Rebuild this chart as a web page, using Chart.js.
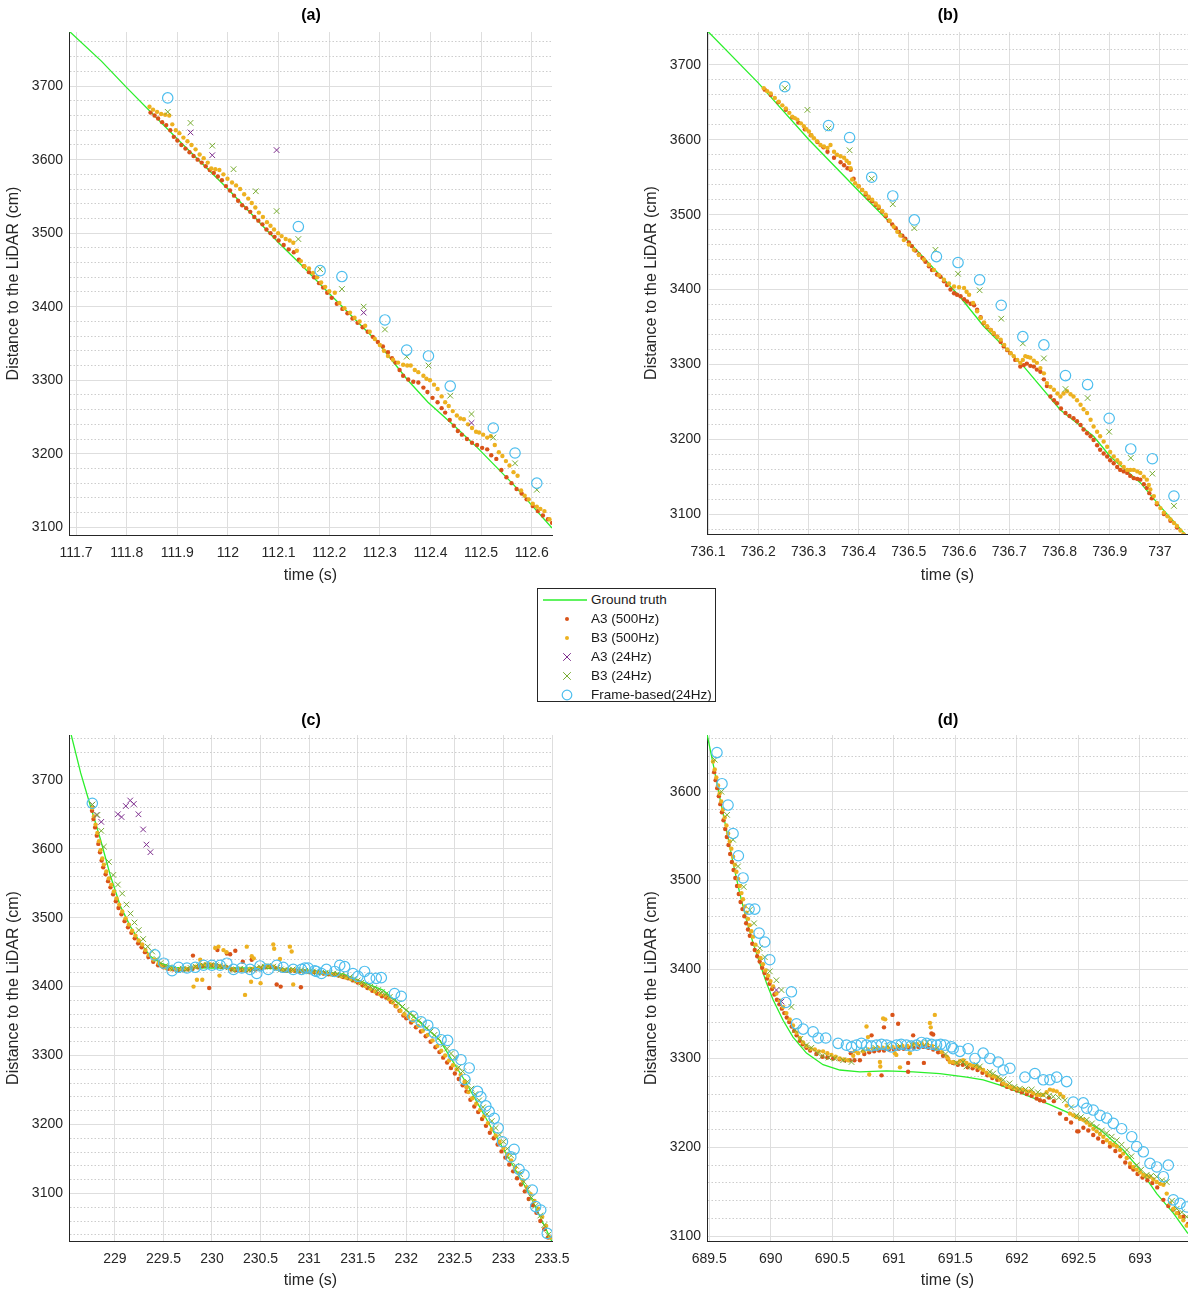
<!DOCTYPE html>
<html>
<head>
<meta charset="utf-8">
<script src="https://cdn.jsdelivr.net/npm/chart.js@4.4.0/dist/chart.umd.min.js"></script>
<style>
  html, body { margin: 0; padding: 0; background: #fff; overflow: hidden; }
  body { position: relative; width: 1188px; height: 1291px; font-family: 'Liberation Sans', Arial, Helvetica, sans-serif; }
  .panel { position: absolute; }
  .ttl { position: absolute; font-weight: bold; font-size: 16px; color: #000; transform: translate(-50%, -50%); }
  #legend { position: absolute; left: 537px; top: 588px; width: 177px; height: 112px; border: 1px solid #262626; background: #fff; }
  #legend svg { position: absolute; left: 0; top: 0; }
  #legend span { position: absolute; left: 53px; font-size: 13.5px; color: #1a1a1a; line-height: 16px; white-space: nowrap; }
</style>
</head>
<body>
<div class="panel" style="left:0;top:0;width:582px;height:592px"><canvas id="ca"></canvas></div>
<div class="panel" style="left:638px;top:0;width:580px;height:592px"><canvas id="cb"></canvas></div>
<div class="panel" style="left:0;top:703px;width:582px;height:588px"><canvas id="cc"></canvas></div>
<div class="panel" style="left:638px;top:703px;width:580px;height:588px"><canvas id="cd"></canvas></div>
<div class="ttl" style="left:311px;top:15px">(a)</div>
<div class="ttl" style="left:948px;top:15px">(b)</div>
<div class="ttl" style="left:311px;top:720px">(c)</div>
<div class="ttl" style="left:948px;top:720px">(d)</div>
<div id="legend">
  <svg width="177" height="112">
    <line x1="5" y1="11" x2="49" y2="11" stroke="#2bef2b" stroke-width="1.3"/>
    <circle cx="29" cy="30" r="2" fill="#D95319"/>
    <circle cx="29" cy="49" r="2" fill="#EDB120"/>
    <path d="M25.2 64.2 L32.8 71.8 M32.8 64.2 L25.2 71.8" stroke="#7E2F8E" stroke-width="1"/>
    <path d="M25.2 83.2 L32.8 90.8 M32.8 83.2 L25.2 90.8" stroke="#77AC30" stroke-width="1"/>
    <circle cx="29" cy="106" r="4.8" fill="none" stroke="#4DBEEE" stroke-width="1.2"/>
  </svg>
  <span style="top:3px">Ground truth</span>
  <span style="top:22px">A3 (500Hz)</span>
  <span style="top:41px">B3 (500Hz)</span>
  <span style="top:60px">A3 (24Hz)</span>
  <span style="top:79px">B3 (24Hz)</span>
  <span style="top:98px">Frame-based(24Hz)</span>
</div>
<script>
// ---------- panel (a) ----------
var aGT = [[111.686,3775],[111.75,3734],[111.8,3698],[111.9,3628],[112.0,3560],[112.1,3487],[112.143,3458],[112.2,3418],[112.294,3353],[112.354,3301],[112.395,3270],[112.45,3236],[112.493,3208],[112.564,3158],[112.64,3099]];
var aA3hi = [[111.847,3664],[111.855,3660],[111.862,3656],[111.870,3651],[111.878,3647],[111.886,3640],[111.893,3631],[111.900,3626],[111.908,3620],[111.916,3615],[111.924,3610],[111.932,3605],[111.940,3600],[111.948,3596],[111.956,3591],[111.964,3586],[111.972,3582],[111.980,3577],[111.988,3572],[111.996,3564],[112.004,3558],[112.012,3551],[112.020,3544],[112.028,3538],[112.036,3534],[112.044,3529],[112.052,3522],[112.060,3517],[112.068,3512],[112.076,3505],[112.084,3500],[112.092,3495],[112.100,3490],[112.110,3484],[112.120,3478],[112.130,3474],[112.140,3464],[112.150,3455],[112.160,3447],[112.170,3440],[112.180,3432],[112.188,3426],[112.196,3419],[112.205,3412],[112.215,3404],[112.226,3397],[112.236,3391],[112.246,3384],[112.256,3378],[112.266,3372],[112.276,3366],[112.286,3359],[112.296,3352],[112.306,3346],[112.316,3338],[112.324,3330],[112.331,3324],[112.339,3314],[112.346,3306],[112.356,3301],[112.366,3298],[112.376,3297],[112.386,3290],[112.394,3284],[112.404,3276],[112.414,3270],[112.422,3262],[112.429,3256],[112.438,3246],[112.446,3238],[112.454,3231],[112.462,3226],[112.472,3220],[112.482,3215],[112.492,3212],[112.502,3208],[112.512,3206],[112.520,3198],[112.530,3193],[112.540,3178],[112.550,3168],[112.560,3160],[112.570,3152],[112.580,3146],[112.590,3138],[112.602,3129],[112.612,3122],[112.622,3116],[112.632,3111],[112.640,3106]];
var aB3hi = [[111.845,3672],[111.852,3668],[111.860,3665],[111.868,3662],[111.876,3661],[111.884,3660],[111.890,3648],[111.897,3640],[111.904,3636],[111.912,3630],[111.920,3625],[111.928,3620],[111.936,3614],[111.944,3607],[111.952,3602],[111.960,3596],[111.967,3588],[111.975,3587],[111.983,3586],[111.991,3580],[111.999,3574],[112.008,3569],[112.016,3565],[112.024,3560],[112.032,3553],[112.040,3547],[112.047,3541],[112.054,3535],[112.061,3528],[112.069,3522],[112.077,3515],[112.084,3510],[112.091,3505],[112.099,3500],[112.106,3496],[112.114,3492],[112.122,3490],[112.129,3487],[112.136,3476],[112.144,3462],[112.151,3455],[112.160,3452],[112.168,3446],[112.176,3440],[112.184,3433],[112.192,3427],[112.200,3421],[112.211,3419],[112.220,3405],[112.230,3398],[112.241,3392],[112.250,3385],[112.260,3380],[112.271,3374],[112.280,3366],[112.290,3356],[112.300,3348],[112.308,3340],[112.316,3333],[112.326,3328],[112.336,3324],[112.346,3321],[112.354,3320],[112.361,3320],[112.369,3314],[112.376,3311],[112.386,3306],[112.392,3302],[112.399,3300],[112.407,3294],[112.414,3288],[112.422,3278],[112.429,3270],[112.436,3265],[112.444,3258],[112.452,3252],[112.459,3248],[112.466,3247],[112.474,3240],[112.482,3235],[112.490,3230],[112.496,3229],[112.504,3226],[112.512,3222],[112.519,3224],[112.527,3212],[112.535,3202],[112.542,3197],[112.549,3190],[112.556,3184],[112.564,3175],[112.572,3170],[112.579,3150],[112.586,3143],[112.594,3138],[112.602,3132],[112.610,3128],[112.617,3125],[112.625,3122],[112.635,3111]];
var aA3lo = [[111.926,3637],[111.969,3606],[112.096,3613],[112.268,3392],[112.481,3242]];
var aB3lo = [[111.881,3665],[111.926,3650],[111.969,3619],[112.011,3587],[112.055,3557],[112.096,3530],[112.139,3492],[112.182,3451],[112.225,3424],[112.268,3400],[112.31,3369],[112.353,3332],[112.396,3320],[112.439,3279],[112.481,3254],[112.524,3222],[112.567,3187],[112.61,3151]];
var aFrame = [[111.881,3684],[112.139,3509],[112.182,3449],[112.225,3441],[112.31,3382],[112.353,3341],[112.396,3333],[112.439,3292],[112.524,3235],[112.567,3201],[112.61,3160]];

// ---------- panel (b) ----------
var bGT = [[736.098,3746],[736.2,3676],[736.301,3600],[736.404,3529],[736.497,3466],[736.601,3391],[736.649,3351],[736.729,3297],[736.802,3239],[736.868,3204],[736.901,3177],[736.961,3142],[737.001,3110],[737.06,3066]];
var bA3hi = [[736.213,3667],[736.225,3660],[736.24,3650],[736.255,3640],[736.268,3630],[736.28,3623],[736.293,3614],[736.305,3606],[736.318,3597],[736.33,3590],[736.338,3584],[736.351,3576],[736.364,3570],[736.371,3566],[736.378,3562],[736.384,3560],[736.39,3548],[736.4,3538],[736.407,3533],[736.414,3527],[736.42,3522],[736.427,3518],[736.434,3513],[736.44,3509],[736.447,3504],[736.454,3498],[736.46,3492],[736.467,3487],[736.474,3482],[736.48,3477],[736.487,3472],[736.493,3468],[736.5,3463],[736.506,3458],[736.513,3452],[736.52,3447],[736.527,3442],[736.533,3437],[736.54,3431],[736.546,3426],[736.556,3420],[736.563,3417],[736.57,3411],[736.576,3406],[736.583,3400],[736.59,3395],[736.596,3393],[736.603,3391],[736.61,3387],[736.616,3384],[736.623,3381],[736.63,3379],[736.636,3373],[736.643,3363],[736.649,3355],[736.656,3350],[736.663,3346],[736.669,3341],[736.676,3337],[736.683,3330],[736.689,3324],[736.696,3319],[736.702,3315],[736.712,3306],[736.722,3297],[736.729,3299],[736.735,3301],[736.742,3298],[736.749,3297],[736.755,3293],[736.762,3290],[736.769,3280],[736.775,3271],[736.782,3257],[736.789,3252],[736.795,3248],[736.803,3241],[736.812,3235],[736.82,3231],[736.828,3228],[736.835,3224],[736.842,3219],[736.848,3213],[736.855,3208],[736.862,3204],[736.868,3199],[736.875,3192],[736.881,3186],[736.888,3181],[736.895,3177],[736.901,3172],[736.908,3168],[736.915,3163],[736.921,3159],[736.928,3157],[736.935,3155],[736.941,3151],[736.948,3148],[736.955,3147],[736.961,3146],[736.968,3140],[736.974,3135],[736.979,3128],[736.984,3121],[736.994,3113],[737.008,3100],[737.021,3091],[737.034,3082],[737.047,3072]];
var bB3hi = [[736.211,3669],[736.218,3665],[736.225,3662],[736.233,3656],[736.241,3651],[736.248,3646],[736.255,3642],[736.262,3636],[736.268,3631],[736.273,3629],[736.278,3627],[736.285,3622],[736.291,3618],[736.296,3614],[736.301,3611],[736.306,3606],[736.311,3602],[736.317,3598],[736.324,3593],[736.331,3591],[736.338,3589],[736.344,3593],[736.351,3584],[736.357,3580],[736.364,3578],[736.371,3576],[736.376,3572],[736.381,3569],[736.384,3562],[736.387,3547],[736.393,3542],[736.4,3538],[736.407,3533],[736.414,3529],[736.42,3524],[736.427,3520],[736.434,3515],[736.44,3511],[736.447,3505],[736.454,3500],[736.462,3492],[736.47,3484],[736.477,3477],[736.483,3472],[736.49,3466],[736.5,3460],[736.51,3453],[736.52,3446],[736.53,3440],[736.54,3433],[736.55,3426],[736.56,3419],[736.57,3413],[736.58,3408],[736.59,3404],[736.6,3403],[736.61,3402],[736.615,3397],[736.62,3393],[736.628,3382],[736.636,3371],[736.643,3362],[736.65,3356],[736.656,3351],[736.663,3346],[736.669,3342],[736.676,3337],[736.683,3333],[736.69,3326],[736.696,3320],[736.703,3315],[736.709,3311],[736.716,3306],[736.722,3302],[736.727,3306],[736.732,3311],[736.737,3310],[736.742,3309],[736.749,3305],[736.755,3302],[736.762,3295],[736.769,3288],[736.775,3275],[736.782,3270],[736.789,3266],[736.796,3261],[736.802,3257],[736.808,3261],[736.815,3264],[736.822,3260],[736.828,3257],[736.835,3252],[736.842,3246],[736.848,3240],[736.855,3235],[736.862,3226],[736.868,3217],[736.875,3210],[736.881,3204],[736.888,3197],[736.895,3190],[736.901,3183],[736.908,3177],[736.915,3172],[736.921,3168],[736.928,3163],[736.935,3159],[736.941,3159],[736.948,3159],[736.955,3157],[736.961,3155],[736.968,3150],[736.974,3146],[736.978,3139],[736.981,3133],[736.988,3124],[736.994,3115],[737.001,3108],[737.008,3102],[737.015,3097],[737.021,3093],[737.028,3088],[737.034,3084],[737.041,3078],[737.047,3073],[737.054,3066]];
var bA3lo = [];
var bB3lo = [[736.253,3669],[736.298,3640],[736.34,3615],[736.382,3586],[736.426,3548],[736.468,3514],[736.511,3482],[736.553,3453],[736.598,3421],[736.641,3399],[736.684,3361],[736.727,3328],[736.769,3308],[736.812,3267],[736.856,3255],[736.899,3210],[736.942,3175],[736.985,3154],[737.028,3111]];
var bFrame = [[736.253,3671],[736.34,3619],[736.382,3603],[736.426,3550],[736.468,3525],[736.511,3493],[736.555,3444],[736.598,3436],[736.641,3413],[736.684,3379],[736.727,3337],[736.769,3326],[736.812,3285],[736.856,3273],[736.899,3228],[736.942,3187],[736.985,3174],[737.028,3124]];

// ---------- panel (c) ----------
var cGT = [[228.528,3778],[228.648,3710],[228.751,3661],[228.853,3613],[228.956,3560],[229.059,3516],[229.161,3487],[229.264,3463],[229.367,3444],[229.469,3434],[229.605,3428],[230.0,3427],[230.5,3427],[231.0,3424],[231.35,3418],[231.76,3395],[232.03,3362],[232.34,3323],[232.61,3262],[232.92,3184],[233.26,3101],[233.5,3030]];
var cA3hi = [[228.765,3655],[228.78,3643],[228.797,3631],[228.814,3619],[228.83,3607],[228.847,3595],[228.864,3583],[228.88,3573],[228.905,3563],[228.93,3553],[228.955,3544],[228.982,3534],[229.01,3524],[229.038,3514],[229.068,3505],[229.1,3495],[229.135,3486],[229.17,3478],[229.205,3470],[229.24,3463],[229.275,3457],[229.31,3450],[229.345,3443],[229.395,3436],[229.445,3431],
  [229.5,3428],[229.55,3426],[229.6,3425],[229.65,3424],[229.7,3424],[229.75,3425],[229.8,3426],[229.85,3428],[229.9,3430],[229.95,3431],[230.0,3431],[230.05,3430],[230.1,3429],[230.15,3428],[230.2,3425],[230.25,3424],[230.3,3424],[230.35,3423],[230.4,3424],[230.45,3425],[230.5,3426],[230.55,3428],[230.6,3429],[230.65,3427],[230.7,3425],[230.75,3423],[230.8,3423],[230.85,3423],[230.9,3422],[230.95,3422],[231.0,3421],[231.05,3421],[231.1,3420],[231.15,3419],[231.2,3418],[231.25,3417],[231.3,3416],[231.35,3414],[231.4,3412],[231.45,3409],[231.5,3406],[231.55,3402],[231.6,3398],[231.65,3394],[231.7,3390],[231.75,3386],[231.794,3384],[231.84,3378],[231.89,3372],[231.93,3365],[231.97,3358],[232.0,3354],[232.05,3348],[232.1,3341],[232.15,3335],[232.2,3328],[232.25,3320],[232.3,3312],[232.341,3305],[232.38,3297],[232.42,3290],[232.46,3282],[232.5,3274],[232.54,3266],[232.58,3257],[232.62,3248],[232.66,3236],[232.7,3226],[232.74,3218],[232.78,3208],[232.82,3198],[232.86,3188],[232.9,3180],[232.94,3171],[232.98,3161],[233.02,3152],[233.06,3142],[233.1,3132],[233.14,3122],[233.18,3113],[233.22,3103],[233.26,3092],[233.3,3083],[233.34,3072],[233.38,3060],[233.42,3048],[233.46,3036],
  [229.804,3445],[229.971,3398],[230.056,3453],[230.153,3448],[230.187,3447],[230.317,3436],[230.409,3439],[230.666,3403],[230.707,3400],[230.915,3399],[230.24,3452]];
var cB3hi = [[228.768,3659],[228.785,3647],[228.802,3635],[228.82,3623],[228.836,3611],[228.853,3598],[228.871,3586],[228.887,3577],[228.912,3567],[228.938,3557],[228.963,3548],[228.99,3538],[229.017,3528],[229.045,3519],[229.076,3509],[229.11,3499],[229.144,3490],[229.178,3481],[229.212,3474],[229.246,3467],[229.281,3461],[229.315,3453],[229.349,3446],[229.4,3439],[229.451,3434],
  [229.48,3430],[229.53,3427],[229.58,3426],[229.63,3425],[229.68,3426],[229.73,3426],[229.78,3427],[229.83,3429],[229.88,3431],[229.93,3432],[229.98,3432],[230.03,3431],[230.08,3430],[230.13,3429],[230.18,3427],[230.23,3425],[230.28,3425],[230.33,3424],[230.38,3425],[230.43,3426],[230.48,3427],[230.53,3429],[230.58,3430],[230.63,3429],[230.68,3426],[230.73,3424],[230.78,3424],[230.83,3424],[230.88,3423],[230.93,3423],[230.98,3422],[231.03,3422],[231.08,3421],[231.13,3420],[231.18,3419],[231.23,3418],[231.28,3417],[231.33,3415],[231.38,3413],[231.43,3411],[231.48,3408],[231.53,3405],[231.58,3401],[231.63,3397],[231.68,3393],[231.73,3389],[231.78,3387],[231.82,3382],[231.86,3377],[231.9,3371],[231.94,3365],[231.98,3360],[232.02,3356],[232.07,3350],[232.12,3343],[232.17,3336],[232.22,3330],[232.27,3322],[232.32,3314],[232.36,3307],[232.4,3300],[232.44,3293],[232.48,3286],[232.52,3280],[232.56,3272],[232.6,3262],[232.62,3254],[232.64,3247],[232.68,3238],[232.72,3230],[232.76,3221],[232.8,3212],[232.84,3202],[232.88,3193],[232.92,3184],[232.96,3175],[233.0,3166],[233.04,3157],[233.08,3148],[233.12,3138],[233.16,3129],[233.2,3119],[233.24,3109],[233.28,3099],[233.32,3089],[233.36,3078],[233.4,3066],[233.44,3053],[233.48,3036],
  [229.81,3400],[229.845,3410],[229.879,3439],[230.033,3456],[230.067,3458],[230.118,3453],[230.15,3450],[230.077,3416],[230.34,3388],[230.358,3458],[230.409,3444],[230.43,3441],[230.402,3407],[230.631,3461],[230.64,3455],[230.802,3458],[230.82,3451],[230.836,3403],[229.9,3410],[230.5,3405],[230.7,3440]];
var cA3lo = [[228.768,3664],[228.812,3649],[228.86,3639],[229.031,3650],[229.069,3646],[229.113,3662],[229.158,3670],[229.195,3665],[229.243,3650],[229.291,3628],[229.325,3606],[229.366,3595]];
var cB3lo = [[228.768,3664],[228.82,3649],[228.86,3626],[228.887,3603],[228.938,3581],[228.984,3562],[229.031,3548],[229.076,3535],[229.12,3519],[229.161,3506],[229.202,3493],[229.246,3482],[229.291,3469],[229.338,3458],[229.384,3451],[229.43,3440],[229.47,3434],[229.52,3430],[229.56,3428],[229.6,3426],[229.65,3424],[229.7,3426],[229.74,3425],[229.78,3427],[229.83,3429],[229.87,3430],[229.91,3431],[229.95,3431],[229.99,3431],[230.04,3431],[230.08,3430],[230.12,3429],[230.17,3428],[230.21,3424],[230.25,3425],[230.29,3426],[230.33,3425],[230.38,3424],[230.42,3425],[230.46,3427],[230.5,3428],[230.54,3429],[230.58,3430],[230.63,3429],[230.67,3427],[230.71,3425],[230.75,3424],[230.79,3424],[230.83,3425],[230.88,3424],[230.92,3424],[230.96,3423],[231.0,3422],[231.04,3422],[231.08,3421],[231.13,3421],[231.17,3420],[231.21,3419],[231.25,3419],[231.29,3418],[231.33,3417],[231.38,3416],[231.42,3414],[231.46,3411],[231.5,3409],[231.54,3406],[231.58,3403],[231.63,3400],[231.67,3398],[231.71,3395],[231.75,3392],[231.79,3389],[231.83,3385],[231.88,3380],[231.92,3376],[231.96,3371],[232.0,3366],[232.04,3361],[232.08,3357],[232.13,3351],[232.17,3346],[232.21,3340],[232.25,3335],[232.29,3330],[232.33,3325],[232.38,3316],[232.42,3310],[232.46,3303],[232.5,3297],[232.54,3283],[232.58,3277],[232.63,3262],[232.67,3252],[232.71,3244],[232.75,3235],[232.79,3225],[232.83,3215],[232.88,3205],[232.92,3195],[232.96,3185],[233.0,3175],[233.04,3165],[233.08,3155],[233.13,3140],[233.17,3128],[233.21,3117],[233.25,3106],[233.29,3094],[233.33,3082],[233.38,3068],[233.42,3054],[233.46,3040]];
var cFrame = [[228.768,3666],[229.412,3446],[229.503,3434],[229.589,3423],[229.656,3428],[229.742,3427],[229.828,3428],[229.913,3431],[229.999,3431],[230.084,3431],[230.153,3434],[230.221,3425],[230.307,3427],[230.392,3425],[230.461,3419],[230.494,3430],[230.579,3425],[230.666,3431],[230.733,3428],[230.836,3425],[230.922,3425],[230.956,3427],[230.99,3427],[231.058,3423],[231.076,3422],[231.127,3419],[231.178,3425],[231.264,3422],[231.315,3431],[231.366,3429],[231.451,3419],[231.503,3415],[231.571,3422],[231.623,3412],[231.691,3412],[231.743,3413],[231.879,3390],[231.948,3386],[232.067,3357],[232.153,3349],[232.221,3344],[232.289,3333],[232.358,3323],[232.426,3322],[232.484,3301],[232.563,3294],[232.604,3265],[232.648,3282],[232.733,3248],[232.768,3240],[232.819,3227],[232.853,3219],[232.905,3209],[232.946,3195],[232.99,3175],[233.076,3153],[233.11,3164],[233.161,3135],[233.212,3127],[233.297,3105],[233.332,3081],[233.384,3076],[233.451,3042]];

// ---------- panel (d) ----------
var dGT = [[689.482,3665],[689.531,3632],[689.585,3594],[689.64,3557],[689.694,3520],[689.748,3486],[689.802,3456],[689.856,3430],[689.911,3407],[689.965,3385],[690.019,3366],[690.1,3343],[690.181,3324],[690.29,3306],[690.425,3293],[690.561,3287],[690.724,3285],[690.941,3286],[691.157,3285],[691.374,3283],[691.591,3279],[691.726,3276],[691.862,3270],[691.998,3263],[692.268,3248],[692.499,3234],[692.675,3220],[692.864,3197],[693.0,3175],[693.136,3148],[693.271,3126],[693.39,3103]];
var dA3hi = [[689.54,3622],[689.552,3613],[689.565,3604],[689.578,3595],[689.59,3586],[689.603,3577],[689.616,3568],[689.63,3558],[689.643,3549],[689.657,3540],[689.67,3530],[689.684,3521],[689.698,3512],[689.712,3503],[689.726,3494],[689.74,3485],[689.755,3476],[689.77,3468],[689.785,3460],[689.8,3452],[689.815,3445],[689.83,3438],[689.85,3429],[689.87,3422],[689.89,3415],[689.91,3409],[689.93,3402],[689.95,3396],[689.97,3390],[689.99,3384],[690.01,3378],[690.03,3372],[690.05,3366],[690.07,3361],[690.09,3356],[690.11,3351],[690.13,3346],[690.15,3341],[690.17,3336],[690.19,3331],[690.21,3326],[690.236,3320],[690.26,3316],[690.29,3312],[690.32,3309],[690.371,3305],[690.42,3302],[690.46,3301],[690.507,3300],[690.56,3299],[690.6,3298],[690.642,3298],[690.68,3298],[690.724,3298],
  [690.76,3305],[690.8,3307],[690.84,3308],[690.88,3309],[690.92,3309],[690.96,3310],[691.0,3310],[691.04,3311],[691.08,3311],[691.12,3312],[691.16,3312],[691.2,3313],[691.24,3313],[691.28,3312],[691.32,3310],[691.36,3307],[691.4,3303],[691.44,3299],
  [691.48,3295],[691.52,3293],[691.56,3293],[691.6,3290],[691.64,3289],[691.68,3287],[691.72,3284],[691.76,3281],[691.8,3278],[691.84,3276],[691.88,3271],[691.92,3268],[691.96,3266],[692.0,3264],[692.04,3262],[692.08,3260],[692.12,3258],[692.16,3255],[692.187,3253],[692.22,3252],[692.26,3256],[692.3,3252],[692.35,3238],[692.4,3232],[692.44,3228],[692.5,3218],[692.54,3222],[692.58,3219],[692.62,3214],[692.66,3210],[692.7,3206],[692.756,3201],[692.8,3196],[692.84,3190],[692.88,3183],[692.92,3178],[692.946,3175],[692.98,3170],[693.02,3166],[693.06,3163],[693.1,3160],[693.14,3155],[693.19,3141],[693.23,3134],[693.27,3130],[693.31,3126],[693.352,3122],[693.39,3114],
  [690.819,3326],[690.9,3281],[690.989,3349],[691.035,3339],[691.157,3326],[691.116,3295],[691.116,3285],[691.244,3295],[691.306,3328],[691.32,3327],[690.65,3306],[690.92,3335],[692.49,3218]];
var dB3hi = [[689.531,3634],[689.545,3625],[689.558,3616],[689.572,3607],[689.585,3598],[689.598,3589],[689.612,3580],[689.626,3571],[689.64,3562],[689.654,3553],[689.667,3544],[689.68,3536],[689.694,3527],[689.708,3518],[689.721,3510],[689.735,3502],[689.748,3494],[689.762,3486],[689.775,3479],[689.789,3471],[689.802,3464],[689.816,3457],[689.829,3450],[689.843,3443],[689.856,3437],[689.876,3428],[689.897,3420],[689.917,3413],[689.937,3406],[689.957,3399],[689.978,3393],[689.998,3387],[690.019,3381],[690.046,3373],[690.073,3365],[690.1,3358],[690.127,3351],[690.154,3344],[690.181,3337],[690.21,3329],[690.236,3323],[690.263,3318],[690.29,3314],[690.324,3311],[690.358,3310],[690.39,3308],[690.425,3308],[690.46,3306],[690.493,3304],[690.527,3302],[690.561,3300],[690.594,3299],[690.628,3298],
  [690.67,3303],[690.71,3306],[690.75,3308],[690.79,3310],[690.83,3311],[690.87,3312],[690.91,3312],[690.95,3312],[690.99,3313],[691.03,3313],[691.07,3314],[691.11,3314],[691.15,3315],[691.19,3316],[691.23,3316],[691.27,3316],[691.31,3314],[691.35,3311],[691.39,3307],[691.43,3302],
  [691.455,3296],[691.482,3296],[691.509,3295],[691.536,3297],[691.563,3298],[691.59,3295],[691.618,3293],[691.645,3292],[691.672,3291],[691.7,3289],[691.726,3287],[691.753,3284],[691.78,3281],[691.808,3280],[691.835,3279],[691.862,3276],[691.889,3272],[691.916,3270],[691.943,3268],[691.97,3267],[691.998,3266],[692.025,3265],[692.052,3265],[692.079,3263],[692.106,3263],[692.133,3261],[692.16,3259],[692.187,3259],[692.214,3259],[692.241,3262],[692.268,3265],[692.295,3264],[692.323,3263],[692.35,3260],[692.377,3257],[692.404,3247],[692.431,3238],[692.458,3236],[692.485,3234],[692.512,3232],[692.539,3231],[692.566,3228],[692.594,3225],[692.621,3221],[692.648,3218],[692.675,3215],[692.702,3212],[692.729,3208],[692.756,3205],[692.783,3203],[692.811,3201],[692.838,3197],[692.864,3193],[692.892,3188],[692.919,3182],[692.946,3178],[692.973,3175],[693.0,3172],[693.027,3169],[693.054,3168],[693.081,3167],[693.108,3164],[693.136,3161],[693.163,3159],[693.19,3158],[693.217,3148],[693.244,3137],[693.271,3131],[693.298,3126],[693.325,3122],[693.352,3118],[693.379,3112],
  [690.778,3336],[690.79,3324],[690.913,3345],[690.93,3344],[690.887,3296],[690.89,3291],[690.683,3308],[691.008,3306],[691.02,3304],[691.13,3306],[691.157,3317],[691.293,3340],[691.333,3349],[691.3,3335],[691.442,3300],[690.8,3282],[691.05,3290]];
var dA3lo = [[690.046,3377],[690.087,3364]];
var dB3lo = [[689.545,3636],[689.599,3600],[689.645,3574],[689.694,3546],[689.734,3516],[689.78,3493],[689.829,3467],[689.864,3452],[689.911,3424],[689.951,3414],[689.992,3398],[690.046,3388],[690.087,3377],[690.168,3358],[690.195,3332],[690.24,3322],[690.29,3315],[690.33,3312],[690.38,3306],[690.42,3303],[690.47,3301],[690.52,3300],[690.588,3298],[690.656,3296],[690.75,3310],[690.85,3312],[690.95,3314],[691.05,3314],[691.15,3315],[691.22,3317],[691.27,3318],[691.35,3312],[691.42,3305],[691.51,3295],[691.563,3296],[691.59,3291],[691.67,3293],[691.699,3291],[691.78,3285],[691.807,3283],[691.848,3279],[691.889,3276],[691.94,3272],[691.98,3268],[692.024,3266],[692.07,3265],[692.12,3265],[692.17,3262],[692.214,3259],[692.26,3258],[692.295,3257],[692.34,3256],[692.39,3253],[692.44,3245],[692.485,3236],[692.52,3234],[692.567,3231],[692.61,3227],[692.648,3223],[692.69,3219],[692.729,3216],[692.77,3212],[692.811,3208],[692.85,3203],[692.892,3197],[692.93,3190],[692.973,3180],[693.01,3175],[693.054,3169],[693.09,3168],[693.136,3167],[693.18,3163],[693.217,3161],[693.26,3140],[693.298,3131],[693.34,3127],[693.38,3122]];
var dFrame = [[689.563,3644],[689.604,3609],[689.653,3585],[689.694,3553],[689.737,3528],[689.775,3503],[689.824,3468],[689.87,3468],[689.905,3441],[689.951,3431],[689.992,3411],[690.122,3363],[690.168,3375],[690.209,3339],[690.263,3333],[690.344,3330],[690.385,3323],[690.447,3323],[690.547,3317],[690.615,3315],[690.656,3313],[690.697,3315],[690.737,3317],[690.778,3315],[690.818,3314],[690.859,3315],[690.9,3316],[690.941,3315],[690.98,3313],[691.022,3315],[691.06,3316],[691.103,3315],[691.14,3314],[691.185,3315],[691.225,3318],[691.266,3317],[691.306,3316],[691.347,3315],[691.38,3316],[691.415,3315],[691.469,3313],[691.482,3311],[691.537,3308],[691.604,3311],[691.659,3300],[691.726,3306],[691.78,3300],[691.848,3296],[691.889,3287],[691.943,3289],[692.065,3279],[692.146,3283],[692.214,3276],[692.268,3276],[692.323,3279],[692.404,3274],[692.458,3251],[692.539,3250],[692.567,3244],[692.62,3242],[692.675,3236],[692.729,3233],[692.783,3227],[692.851,3221],[692.933,3212],[692.973,3201],[693.027,3195],[693.081,3182],[693.136,3178],[693.19,3167],[693.23,3180],[693.271,3141],[693.325,3137],[693.38,3133]];

// axis ranges and tick steps per panel
var xRanges = {a: [111.686, 112.64], b: [736.098, 737.056], c: [228.528, 233.5], d: [689.482, 693.39]};
var yRanges = {a: [3089.5, 3773.6], b: [3073.4, 3744], c: [3031, 3765], d: [3094.7, 3663.8]};
var xSteps = {a: 0.1, b: 0.1, c: 0.5, d: 0.5};

var FONT = "'Liberation Sans', Arial, Helvetica, sans-serif";
Chart.defaults.font.family = FONT;
Chart.defaults.color = '#262626';

var GREEN = '#2bef2b', RED = '#D95319', ORANGE = '#EDB120', PURPLE = '#7E2F8E', OLIVE = '#77AC30', CYAN = '#4DBEEE';

function pts(arr) { return arr.map(function(p) { return {x: p[0], y: p[1]}; }); }
function isMajor(v) { return Math.abs(v - Math.round(v / 100) * 100) < 1e-6; }

function makePanel(canvasId, key, gt, a500, b500, a24, b24, frame, xAxisH, titlePad) {
  var ctx = document.getElementById(canvasId).getContext('2d');
  return new Chart(ctx, {
    type: 'scatter',
    data: {
      datasets: [
        {label: 'Ground truth', data: pts(gt), showLine: true, borderColor: GREEN, borderWidth: 1.3, pointRadius: 0, pointHoverRadius: 0, fill: false, clip: 0, order: 5},
        {label: 'A3 (500Hz)', data: pts(a500), backgroundColor: RED, borderWidth: 0, pointRadius: 2.2, pointHoverRadius: 2.2, order: 4},
        {label: 'B3 (500Hz)', data: pts(b500), backgroundColor: ORANGE, borderWidth: 0, pointRadius: 2.2, pointHoverRadius: 2.2, order: 3},
        {label: 'A3 (24Hz)', data: pts(a24), pointStyle: 'crossRot', borderColor: PURPLE, borderWidth: 1, pointRadius: 4, pointHoverRadius: 4, order: 2},
        {label: 'B3 (24Hz)', data: pts(b24), pointStyle: 'crossRot', borderColor: OLIVE, borderWidth: 1, pointRadius: 4, pointHoverRadius: 4, order: 1},
        {label: 'Frame-based(24Hz)', data: pts(frame), pointStyle: 'circle', backgroundColor: 'rgba(0,0,0,0)', borderColor: CYAN, borderWidth: 1.2, pointRadius: 5.2, pointHoverRadius: 5.2, order: 0}
      ]
    },
    options: {
      responsive: true,
      maintainAspectRatio: false,
      animation: false,
      events: [],
      layout: {padding: {top: 32, right: 30, left: 0, bottom: 0}},
      plugins: {legend: {display: false}, tooltip: {enabled: false}, title: {display: false}},
      scales: {
        x: {
          type: 'linear',
          min: xRanges[key][0],
          max: xRanges[key][1],
          afterFit: function(s) { s.height = xAxisH; },
          ticks: {
            stepSize: xSteps[key], autoSkip: false, includeBounds: false, maxRotation: 0, padding: 10,
            color: '#262626', font: {size: 14},
            callback: function(v) { return String(+v.toFixed(2)); }
          },
          grid: {color: '#dedede', drawTicks: false, lineWidth: 1},
          border: {display: true, color: '#262626', width: 1},
          title: {display: true, text: 'time (s)', color: '#262626', font: {size: 16}, padding: {top: 0, bottom: titlePad}}
        },
        y: {
          type: 'linear',
          min: yRanges[key][0],
          max: yRanges[key][1],
          afterFit: function(s) { s.width = 69; },
          ticks: {
            stepSize: 20, autoSkip: false, includeBounds: false, padding: 6,
            color: '#262626', font: {size: 14},
            callback: function(v) { return isMajor(v) ? String(Math.round(v)) : ''; }
          },
          grid: {
            drawTicks: false, lineWidth: 1,
            color: function(c) { return (c.tick && !isMajor(c.tick.value)) ? '#cdcdcd' : '#dedede'; }
          },
          border: {
            display: true, color: '#262626', width: 1,
            dash: function(c) { return (c.tick && !isMajor(c.tick.value)) ? [1.5, 2] : []; }
          },
          title: {display: true, text: 'Distance to the LiDAR (cm)', color: '#262626', font: {size: 16}, padding: {top: 4, bottom: 0}}
        }
      }
    }
  });
}

makePanel('ca', 'a', aGT, aA3hi, aB3hi, aA3lo, aB3lo, aFrame, 57, 7);
makePanel('cb', 'b', bGT, bA3hi, bB3hi, bA3lo, bB3lo, bFrame, 58, 7);
makePanel('cc', 'c', cGT, cA3hi, cB3hi, cA3lo, cB3lo, cFrame, 50, 1);
makePanel('cd', 'd', dGT, dA3hi, dB3hi, dA3lo, dB3lo, dFrame, 50, 1);
</script>
</body>
</html>
